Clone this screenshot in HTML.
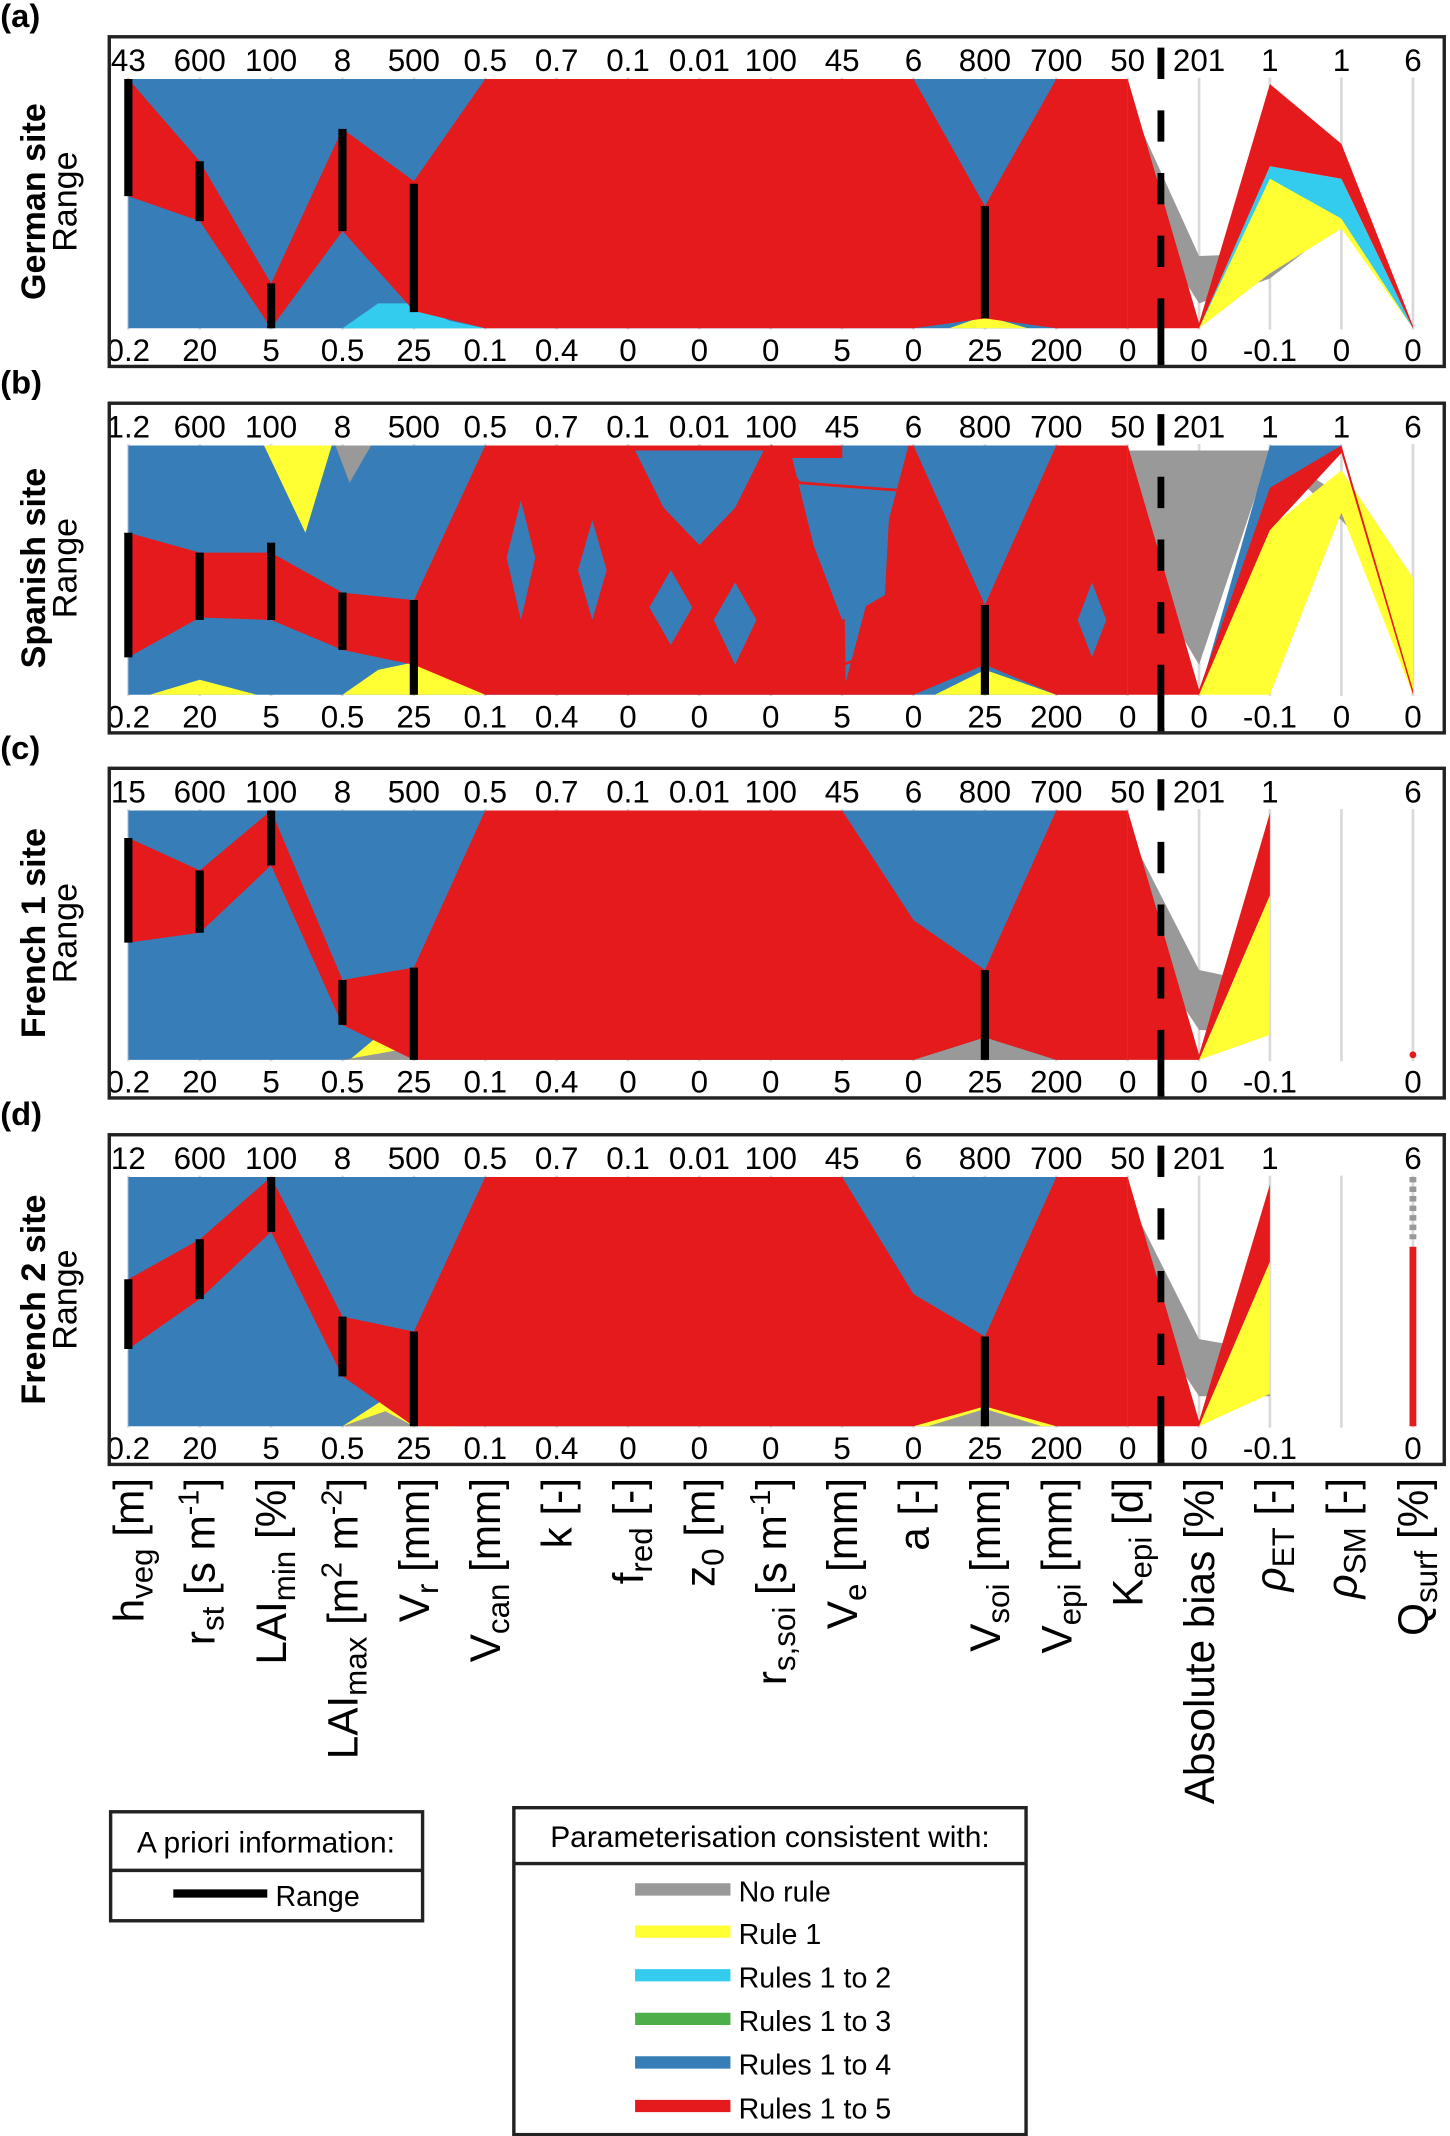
<!DOCTYPE html>
<html><head><meta charset="utf-8"><style>
html,body{margin:0;padding:0;background:#fff}
svg{display:block}
text{font-family:"Liberation Sans",Arial,sans-serif;fill:#000}
</style></head><body>
<svg id="fig" xmlns="http://www.w3.org/2000/svg" width="1450" height="2136" viewBox="0 0 1064 1568">
<g id="panels"></g>
<g id="xtitles" font-size="31">
</g>
<g>
  <rect x="81" y="1330" width="229" height="80" fill="#fff" stroke="#222" stroke-width="2.5"/>
  <line x1="81" y1="1373" x2="310" y2="1373" stroke="#222" stroke-width="2.5"/>
  <text x="195" y="1360" font-size="22" text-anchor="middle">A priori information:</text>
  <line x1="127" y1="1390" x2="196" y2="1390" stroke="#000" stroke-width="6"/>
  <text x="202" y="1399" font-size="21">Range</text>
</g>
<g>
  <rect x="377" y="1327" width="376" height="240" fill="#fff" stroke="#222" stroke-width="2.5"/>
  <line x1="377" y1="1368" x2="753" y2="1368" stroke="#222" stroke-width="2.5"/>
  <text x="565" y="1356" font-size="22" text-anchor="middle">Parameterisation consistent with:</text>
  <g><line x1="466" y1="1387" x2="536" y2="1387" stroke="#999" stroke-width="9"/><text x="542" y="1396" font-size="21">No rule</text></g>
  <g><line x1="466" y1="1418" x2="536" y2="1418" stroke="#ffff33" stroke-width="9"/><text x="542" y="1427" font-size="21">Rule 1</text></g>
  <g><line x1="466" y1="1450" x2="536" y2="1450" stroke="#33ccee" stroke-width="9"/><text x="542" y="1459" font-size="21">Rules 1 to 2</text></g>
  <g><line x1="466" y1="1482" x2="536" y2="1482" stroke="#4daf4a" stroke-width="9"/><text x="542" y="1491" font-size="21">Rules 1 to 3</text></g>
  <g><line x1="466" y1="1514" x2="536" y2="1514" stroke="#377eb8" stroke-width="9"/><text x="542" y="1523" font-size="21">Rules 1 to 4</text></g>
  <g><line x1="466" y1="1546" x2="536" y2="1546" stroke="#e41a1c" stroke-width="9"/><text x="542" y="1555" font-size="21">Rules 1 to 5</text></g>
</g>
</svg>
<script>
// ---------- data ----------
const panelIds = ["a","b","c","d"];
const panelNames = ["German site","Spanish site","French 1 site","French 2 site"];
const firstTop = ["43","1.2","15","12"];
const topTicks = ["","600","100","8","500","0.5","0.7","0.1","0.01","100","45","6","800","700","50","201","1","1","6"];
const botTicks = ["0.2","20","5","0.5","25","0.1","0.4","0","0","0","5","0","25","200","0","0","-0.1","0","0"];
const hasSM = [true,true,false,false];

const redTopA = [1,.67,.18,.80,.59,1,1,1,1,1,1,1,.49,1,1];
const redBotA = [.53,.43,0,.39,.07,0,0,0,0,0,0,0,.04,0,0];
const redTopB = [.65,.57,.57,.41,.38,1,1,1,1,1,1,1,.36,1,1];
const redBotB = [.15,.31,.30,.18,.12,0,0,0,0,0,0,0,.12,0,0];
const redTopC = [.89,.76,1,.32,.37,1,1,1,1,1,1,.56,.36,1,1];
const redBotC = [.47,.51,.78,.14,0,0,0,0,0,0,0,0,.09,0,0];
const redTopD = [.59,.75,1,.44,.38,1,1,1,1,1,1,.53,.36,1,1];
const redBotD = [.31,.51,.78,.20,0,0,0,0,0,0,0,0,.08,0,0];

const rangeAxes = [0,1,2,3,4,12];
const rangeTopA = [1,.67,.18,.80,.58,.49];
const rangeBotA = [.53,.43,0,.39,.065,.04];
const rangeTopB = [.65,.57,.61,.41,.38,.36];
const rangeBotB = [.15,.30,.30,.18,0,0];
const rangeTopC = [.89,.76,1,.32,.37,.36];
const rangeBotC = [.47,.51,.78,.14,0,0];
const rangeTopD = [.59,.75,1,.44,.38,.36];
const rangeBotD = [.31,.51,.78,.20,0,0];

const grayTopA=[.92,.29,.30,.45,0],  grayBotA=[.55,.10,.20,.42,0];
const yelTopA=[null,0,.65,.44,0],    yelBotA=[null,0,.22,.40,0];
const cyanTopA=[null,0,.65,.60,0],   cyanBotA=[null,0,.60,.44,0];
const rTopA=[1,.02,.98,.74,.01],     rBotA=[0,0,.65,.60,0];

const grayTopB=[.98,.98,.98,.80,.47], grayBotB=[.60,.12,.97,.70,.40];
const yelTopB=[null,0,.67,.90,.47],  yelBotB=[null,0,0,.73,0];
const blueTopB=[null,0,1,1,null],    blueBotB=[null,0,.80,.98,null];
const rTopB=[1,.02,.83,1,.02],       rBotB=[0,0,.66,.97,0];

const grayTopC=[.92,.36,.30,null,null], grayBotC=[.55,.12,.10,null,null];
const yelTopC=[null,0,.66,null,null],   yelBotC=[null,0,.10,null,null];
const rTopC=[1,.02,.99,null,null],      rBotC=[0,0,.66,null,null];

const grayTopD=[.92,.35,.30,null,null], grayBotD=[.55,.12,.12,null,null];
const yelTopD=[null,0,.66,null,null],   yelBotD=[null,0,.13,null,null];
const rTopD=[1,.02,.97,null,null],      rBotD=[0,0,.66,null,null];

const qsurfRedC=[.02,0];
const qsurfRedD=[.72,0];
const qsurfGrayD=[1,.75];

// ---------- layout ----------
const C={gray:"#999999",yel:"#ffff33",cyan:"#33ccee",blue:"#377eb8",red:"#e41a1c"};
const boxTop=[27,296,564,833];
const rightX=[827.6,880,932,984.5,1037];
function ax(i){ if(i<=14) return 94+52.4*i; const k=i-14, j=Math.min(3,Math.floor(k)); return rightX[j]+(rightX[j+1]-rightX[j])*(k-j);}
function yy(p,f){ return boxTop[p]+31+(1-f)*183; }
const NS="http://www.w3.org/2000/svg";
function mk(tag,attrs,parent){const e=document.createElementNS(NS,tag);for(const k in attrs)e.setAttribute(k,attrs[k]);parent.appendChild(e);return e;}
function poly(p,pts,fill,parent,name){
  const e=mk("polygon",{points:pts.map(q=>ax(q[0]).toFixed(1)+","+yy(p,q[1]).toFixed(1)).join(" "),fill:fill},parent);
  
  
  return e;
}
function bandPoly(p,start,tops,bots,fill,parent,name){
  const up=[],dn=[];
  for(let i=0;i<tops.length;i++){ if(tops[i]==null) continue; up.push([start+i,tops[i]]); dn.unshift([start+i,bots[i]]); }
  if(up.length<2) return;
  poly(p,up.concat(dn),fill,parent,name);
}
const redTops=[redTopA,redTopB,redTopC,redTopD], redBots=[redBotA,redBotB,redBotC,redBotD];
const rT=[rangeTopA,rangeTopB,rangeTopC,rangeTopD], rB=[rangeBotA,rangeBotB,rangeBotC,rangeBotD];
const right=[
 [[grayTopA,grayBotA,C.gray,"no-rule"],[yelTopA,yelBotA,C.yel,"rule-1"],[cyanTopA,cyanBotA,C.cyan,"rules-1-2"],[rTopA,rBotA,C.red,"rules-1-5"]],
 [[grayTopB,grayBotB,C.gray,"no-rule"],[yelTopB,yelBotB,C.yel,"rule-1"],[blueTopB,blueBotB,C.blue,"rules-1-4"],[rTopB,rBotB,C.red,"rules-1-5"]],
 [[grayTopC,grayBotC,C.gray,"no-rule"],[yelTopC,yelBotC,C.yel,"rule-1"],[rTopC,rBotC,C.red,"rules-1-5"]],
 [[grayTopD,grayBotD,C.gray,"no-rule"],[yelTopD,yelBotD,C.yel,"rule-1"],[rTopD,rBotD,C.red,"rules-1-5"]]
];
const extrasUnder=[
 [[C.cyan,[[3,0],[3.5,.1],[4,.1],[4.5,.03],[5,0]]],[C.yel,[[11.5,0],[12,.05],[12.6,0]]]],
 [[C.yel,[[1.9,1],[2.85,1],[2.48,.65]]],[C.gray,[[2.9,1],[3.4,1],[3.1,.85]]],[C.yel,[[3,0],[3.5,.1],[4,.13],[4.5,.08],[5,0]]],[C.yel,[[11.3,0],[12,.1],[13,0]]],[C.yel,[[0.3,0],[1,.06],[1.8,0]]]],
 [[C.yel,[[3.1,0],[3.6,.12],[4,.06],[4,0]]],[C.gray,[[3,0],[3.8,.04],[4,0]]],[C.gray,[[11,0],[12,.09],[13,0]]]],
 [[C.yel,[[3,0],[3.7,.13],[4,.12],[4.6,0]]],[C.gray,[[3,0],[3.6,.06],[4,0]]],[C.yel,[[11,0],[12,.1],[13,0]]],[C.gray,[[11.2,0],[12,.07],[12.8,0]]]]
];
const holesB=[
 [[5.3,.55],[5.5,.78],[5.7,.55],[5.5,.3]],
 [[6.3,.5],[6.5,.7],[6.7,.5],[6.5,.3]],
 [[7.1,.98],[8.9,.98],[8.5,.75],[8,.6],[7.5,.75]],
 [[9.3,.95],[10.7,.95],[10.6,.4],[10,.3],[9.6,.6]],
 [[10,1],[10.93,1],[10.05,.05]],
 [[11.05,1],[12,1],[12,.36]],
 [[12,1],[12.95,1],[12,.36]],
 [[7.3,.35],[7.6,.2],[7.9,.35],[7.6,.5]],
 [[8.2,.3],[8.5,.12],[8.8,.3],[8.5,.45]],
 [[13.3,.3],[13.5,.15],[13.7,.3],[13.5,.45]]
];
const linesB=[
 [[9,1],[9.4,.85],[10.8,.82]],
 [[9.2,.3],[10,.12],[10.8,.2],[11.5,.15],[12,.2]]
];

const root=document.getElementById("panels");
for(let p=0;p<4;p++){
  const g=mk("g",{},root);
  
  
  const bt=boxTop[p];
  const lab=mk("text",{x:0,y:bt-7,"font-size":24,"font-weight":"bold"},g); lab.textContent="("+panelIds[p]+")";
  
  
  const cy=bt+121;
  const sn=mk("text",{x:0,y:0,"font-size":25,"font-weight":"bold","text-anchor":"middle",transform:`translate(33,${cy}) rotate(-90)`},g); sn.textContent=panelNames[p];
  
  
  const rg=mk("text",{x:0,y:0,"font-size":25,"text-anchor":"middle",fill:"#333",transform:`translate(56,${cy}) rotate(-90)`},g); rg.textContent="Range";
  
  
  for(let i=0;i<19;i++){
    const l=mk("line",{x1:ax(i),x2:ax(i),y1:bt+30,y2:bt+215,stroke:"#dadada","stroke-width":2},g);
    
    
  }
  const env=[]; for(let i=0;i<=14;i++) env.push([i,1]); env.push([14,0],[0,0]);
  poly(p,env,C.blue,g,"rules-1-4-envelope");
  extrasUnder[p].forEach(e=>poly(p,e[1],e[0],g,"rule-detail"));
  bandPoly(p,0,redTops[p],redBots[p],C.red,g,"rules-1-5-band");
  if(p===1){
    holesB.forEach(h=>poly(p,h,C.blue,g,"rules-1-4-gap"));
    linesB.forEach(l=>{
      const pl=mk("polyline",{points:l.map(q=>ax(q[0]).toFixed(1)+","+yy(p,q[1]).toFixed(1)).join(" "),fill:"none",stroke:C.red,"stroke-width":2},g);
      
      
    });
  }
  right[p].forEach(b=>bandPoly(p,14,b[0],b[1],b[2],g,b[3]+"-band"));
  if(p===2){
    const d=mk("circle",{cx:ax(18),cy:yy(p,qsurfRedC[0]),r:2.5,fill:C.red},g);
    
    
  }
  if(p===3){
    const gl=mk("line",{x1:ax(18),x2:ax(18),y1:yy(p,qsurfGrayD[0]),y2:yy(p,qsurfGrayD[1]),stroke:C.gray,"stroke-width":5,"stroke-dasharray":"4 3"},g);
    
    
    const rl=mk("line",{x1:ax(18),x2:ax(18),y1:yy(p,qsurfRedD[0]),y2:yy(p,qsurfRedD[1]),stroke:C.red,"stroke-width":5},g);
    
    
  }
  for(let k=0;k<rangeAxes.length;k++){
    const x=ax(rangeAxes[k]);
    const r=mk("line",{x1:x,x2:x,y1:yy(p,rT[p][k]),y2:yy(p,rB[p][k]),stroke:"#000","stroke-width":6},g);
    
    
  }
  for(let i=0;i<19;i++){
    let t=i===0?firstTop[p]:topTicks[i];
    let b=botTicks[i];
    if(i===17&&!hasSM[p]){t="";b="";}
    if(t){const e=mk("text",{x:ax(i),y:bt+25,"font-size":23,"text-anchor":"middle"},g);e.textContent=t;
      
      }
    if(b){const e=mk("text",{x:ax(i),y:bt+238,"font-size":23,"text-anchor":"middle"},g);e.textContent=b;
      
      }
  }
  const ds=mk("line",{x1:852,x2:852,y1:bt,y2:bt+242,stroke:"#000","stroke-width":5,"stroke-dasharray":"23 23","stroke-dashoffset":"-8"},g);
  
  
  const ds2=mk("line",{x1:852,x2:852,y1:bt+214,y2:bt+242,stroke:"#000","stroke-width":5},g);
  
  
  const box=mk("rect",{x:80,y:bt,width:980,height:242,fill:"none",stroke:"#222","stroke-width":2.5},g);
  
  
}
const titles=[
 ["h","veg"," [m]"],["r","st"," [s m","-1","]"],["LAI","min"," [%]"],["LAI","max"," [m","2"," m","-2","]"],
 ["V","r"," [mm]"],["V","can"," [mm]"],["k [-]"],["f","red"," [-]"],["z","0"," [m]"],["r","s,soi"," [s m","-1","]"],
 ["V","e"," [mm]"],["a [-]"],["V","soi"," [mm]"],["V","epi"," [mm]"],["K","epi"," [d]"],["Absolute bias [%]"],
 ["ρ","ET"," [-]"],["ρ","SM"," [-]"],["Q","surf"," [%]"]
];
const xt=document.getElementById("xtitles");
titles.forEach((parts,i)=>{
  const t=mk("text",{x:0,y:0,"text-anchor":"end",transform:`translate(${ax(i)+11},1085) rotate(-90)`},xt);
  
  
  parts.forEach((s,k)=>{
    const ts=mk("tspan",{},t);
    if(parts.length>1 && k===1){ ts.setAttribute("baseline-shift","-30%"); ts.setAttribute("font-size","23"); }
    else if(k>=3 && k%2===1){ ts.setAttribute("baseline-shift","super"); ts.setAttribute("font-size","21"); }
    if((i===16||i===17)&&k===0) ts.setAttribute("font-style","italic");
    ts.textContent=s;
  });
});
</script>
</body></html>
